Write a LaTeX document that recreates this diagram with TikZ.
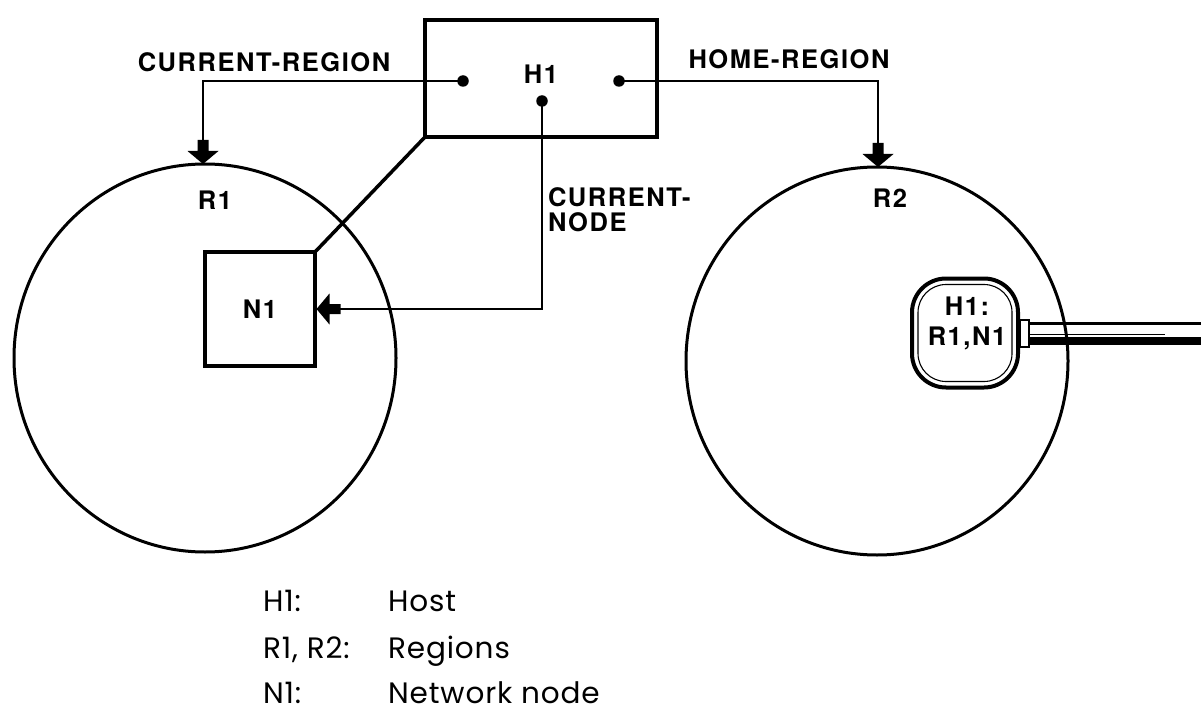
\documentclass[tikz,border=0pt]{standalone}
\usepackage{fontspec}
\setmainfont{TeX Gyre Heros}
\newfontfamily\lblfont[LetterSpace=6]{TeX Gyre Heros}
\newfontfamily\keyfont[LetterSpace=3]{Poppins}
\usetikzlibrary{shapes.geometric}

\tikzset{
  frame/.style={draw, line width=3.5pt},
  wire/.style={draw, line width=2pt},
  region/.style={draw, ellipse, line width=3pt, minimum width=382pt, minimum height=388pt},
  lbl/.style={font=\lblfont\bfseries\fontsize{25.5}{25}\selectfont},
  key/.style={font=\keyfont\fontsize{29.5}{30}\selectfont, anchor=base west},
  dotmark/.style={circle, fill, minimum size=11.5pt},
  headdown/.pic={\fill (0,0) -- (-15.5,-13) -- (-5.5,-13) -- (-5.5,-24) -- (5.5,-24) -- (5.5,-13) -- (15.5,-13) -- cycle;},
  headleft/.pic={\fill (0,0) -- (13,-15.5) -- (13,-5) -- (24,-5) -- (24,5) -- (13,5) -- (13,15.5) -- cycle;},
}

\begin{document}
\begin{tikzpicture}[x=1pt, y=-1pt, every node/.style={inner sep=0pt, outer sep=0pt}]
\useasboundingbox (0,0) rectangle (1201,711);

% regions
\node[region] (R1) at (205,358) {};
\node[region] (R2) at (877,361) {};
\node[lbl] (R1lbl) at (215,200) {R1};
\node[lbl] (R2lbl) at (890,198) {R2};

% host box and its pointer fields
\node[frame, minimum width=232pt, minimum height=117pt] (H1) at (541,78.5) {};
\node[lbl] (H1lbl) at (541,74) {H1};
\node[dotmark] (dL) at (463,81) {};
\node[dotmark] (dM) at (542,101) {};
\node[dotmark] (dR) at (619,81) {};

% network node
\node[frame, minimum width=110pt, minimum height=114pt, lbl] (N1) at (260,309) {N1};
\draw[frame] (H1.south west) -- (N1.north east);

% arrow targets
\coordinate (tR1) at (203,164);
\coordinate (tR2) at (878,167);
\coordinate (tN1) at ([xshift=1.5pt]N1.east);

\draw[wire] (dL.center) -| (tR1);
\draw[wire] (dR.center) -| (tR2);
\draw[wire] (dM.center) |- (tN1);
\pic at (tR1) {headdown};
\pic at (tR2) {headdown};
\pic at (tN1) {headleft};

% pointer labels
\node[lbl] (curreg) at (264,62) {CURRENT-REGION};
\node[lbl] (homereg) at (789,59) {HOME-REGION};
\node[lbl, align=left, anchor=west] (curnode) at (548,210) {CURRENT-\\[0pt]NODE};

% host record inside R2
\node[draw, line width=4pt, rounded corners=34pt, minimum width=106pt, minimum height=109pt] (rec) at (965,333) {};
\node[draw, line width=1.1pt, rounded corners=28pt, minimum width=94pt, minimum height=97pt] (recin) at (965,333) {};
\node[lbl, align=center] (rectxt) at (967,323) {H1:\\[5pt]R1,N1};

% link leaving the record
\coordinate (pA) at (1020,320);
\coordinate (pB) at (1029,347);
\coordinate (pEnd) at (1201,341);
\draw[line width=2pt] (pA) rectangle (pB);
\draw[line width=3pt] (pB |- 0,323.5) -- (pEnd |- 0,323.5);
\draw[line width=0.8pt] (pB |- 0,334.5) -- (1165,334.5);
\draw[line width=7.5pt] (pB |- pEnd) -- (pEnd);

% legend
\node[key] (k1) at (263,611) {H1:};
\node[key] (v1) at (388,611) {Host};
\node[key] (k2) at (263,658) {R1, R2:};
\node[key] (v2) at (388,658) {Regions};
\node[key] (k3) at (263,703) {N1:};
\node[key] (v3) at (388,703) {Network node};
\end{tikzpicture}
\end{document}
